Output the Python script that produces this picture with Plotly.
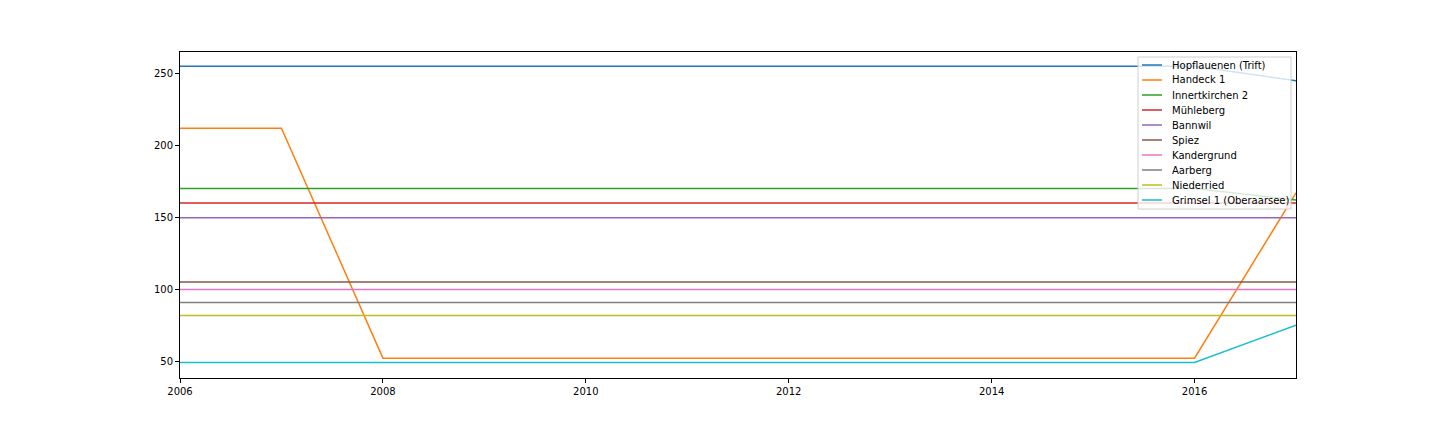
import plotly.graph_objects as go

years = list(range(2006, 2018))

hopflauenen = [255] * 11 + [245]
handeck = [212, 212] + [52] * 9 + [167]
innertkirchen = [170] * 11 + [162]
muehleberg = [160] * 12
bannwil = [149.7] * 12
spiez = [105] * 12
kandergrund = [99.8] * 12
aarberg = [90.7] * 12
niederried = [81.6] * 12
grimsel = [49] * 11 + [75]

names = ["Hopflauenen (Trift)", "Handeck 1", "Innertkirchen 2", "Mühleberg", "Bannwil",
         "Spiez", "Kandergrund", "Aarberg", "Niederried", "Grimsel 1 (Oberaarsee)"]
series = [hopflauenen, handeck, innertkirchen, muehleberg, bannwil,
          spiez, kandergrund, aarberg, niederried, grimsel]

# matplotlib tab10
colors = ["#1f77b4", "#ff7f0e", "#2ca02c", "#d62728", "#9467bd",
          "#8c564b", "#e377c2", "#7f7f7f", "#bcbd22", "#17becf"]

fig = go.Figure()
for name, vals, c in zip(names, series, colors):
    fig.add_trace(go.Scatter(x=years, y=vals, mode="lines", name=name,
                             line=dict(color=c, width=1.5)))

# plot area in page pixels (page has an 8px body margin)
PL, PR, PT, PB = 180, 1296, 52, 378


def px(x):
    return (x - PL) / (PR - PL)


def py(y):
    return (PB - y) / (PB - PT)


# matplotlib-like legend box, drawn by hand so entries sit 15px apart
shapes = [dict(type="rect", xref="paper", yref="paper", layer="above",
               x0=px(1138), x1=px(1291), y0=py(57), y1=py(209),
               fillcolor="rgba(255,255,255,0.8)", line=dict(color="#d0d0d0", width=1))]
annotations = []
for i, (name, c) in enumerate(zip(names, colors)):
    yc = 65 + 15 * i
    shapes.append(dict(type="line", xref="paper", yref="paper", layer="above",
                       x0=px(1142), x1=px(1162), y0=py(yc), y1=py(yc),
                       line=dict(color=c, width=1.5)))
    annotations.append(dict(xref="paper", yref="paper", x=px(1170), y=py(yc),
                            text=name, showarrow=False, xanchor="left", yanchor="middle",
                            font=dict(size=10, color="black")))

axis_style = dict(showline=True, linecolor="black", linewidth=1, mirror=True,
                  ticks="outside", ticklen=4, tickcolor="black", showgrid=False,
                  zeroline=False, tickfont=dict(size=10, color="black"))

fig.update_layout(
    width=1432, height=424,
    margin=dict(l=172, r=144, t=44, b=54),
    plot_bgcolor="white", paper_bgcolor="white",
    font=dict(family="DejaVu Sans", size=10, color="black"),
    xaxis=dict(range=[2006, 2017], tickvals=[2006, 2008, 2010, 2012, 2014, 2016], **axis_style),
    yaxis=dict(range=[38.2, 265], tickvals=[50, 100, 150, 200, 250], **axis_style),
    shapes=shapes,
    annotations=annotations,
    showlegend=False,
)

fig.write_html("out.html")
